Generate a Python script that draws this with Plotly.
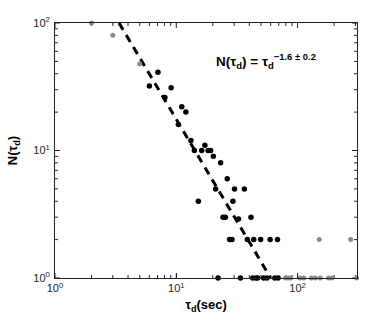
import plotly.graph_objects as go

# Black points (tau_d in sec, N)
black_tau = [7.06, 6.0, 9.07, 8.06, 11.1, 12.0, 10.4, 13.2, 17.2, 14.1, 16.2, 18.3, 19.2,
             20.2, 23.2, 26.3, 21.1, 30.2, 36.4, 15.2, 29.3, 24.3, 25.4, 32.6, 41.3,
             27.5, 28.8, 38.5, 43.5, 49.6, 59.4, 68.3,
             22.1, 33.8, 42.7, 45.4, 46.9, 52.5, 55.9, 64.9, 69.1]
black_n = [41, 32, 31, 26, 22, 20, 16, 12, 11, 10, 10, 10, 10,
           9, 8, 6, 5, 5, 5, 4, 4, 3, 3, 2.9, 3,
           2, 2, 2, 2, 2, 2, 2,
           1, 1, 1, 1, 1, 1, 1, 1, 1]

# Gray points
gray_tau = [2, 3, 5, 151, 274, 79.8, 83.6, 87.7, 104.4, 112.6, 130, 140, 154, 180, 192, 307]
gray_n = [100, 80, 48, 2, 2, 1, 1, 1, 1, 1, 1, 1, 1, 1, 1, 1]

# Power-law fit N = A * tau^(-alpha)
fit_A = 700.0
fit_alpha = 1.6
fit_tau = [(fit_A / 100) ** (1 / fit_alpha), fit_A ** (1 / fit_alpha)]
fit_n = [fit_A * t ** (-fit_alpha) for t in fit_tau]

x_tickvals = [1, 10, 100]
x_ticktext = ["10<sup>0</sup>", "10<sup>1</sup>", "10<sup>2</sup>"]
y_tickvals = [1, 10, 100]
y_ticktext = ["10<sup>0</sup>", "10<sup>1</sup>", "10<sup>2</sup>"]
x_max = 10 ** 2.49
y_max = 100
x_minor = [m * 10 ** d for d in range(0, 3) for m in range(2, 10) if m * 10 ** d < x_max]
y_minor = [m * 10 ** d for d in range(0, 2) for m in range(2, 10) if m * 10 ** d < y_max]

W, H = 374, 323
ML, MR, MT, MB = 52, 17, 23, 45
PW, PH = W - ML - MR, H - MT - MB
minor_len = 3
major_len = 5

fig = go.Figure()
fig.add_trace(go.Scatter(x=fit_tau, y=fit_n, mode="lines",
                         line=dict(color="black", width=3, dash="8px,6px"),
                         showlegend=False, cliponaxis=True, hoverinfo="skip"))
fig.add_trace(go.Scatter(x=gray_tau, y=gray_n, mode="markers",
                         marker=dict(color="#8a8a8a", size=5),
                         showlegend=False, cliponaxis=False))
fig.add_trace(go.Scatter(x=black_tau, y=black_n, mode="markers",
                         marker=dict(color="black", size=5.5),
                         showlegend=False, cliponaxis=False))

tick_line = dict(color="#222", width=1)
# minor + major ticks on bottom/top (x) and left/right (y) drawn as axis decorations
for v, ln in [(v, minor_len) for v in x_minor] + [(v, major_len) for v in x_tickvals]:
    fig.add_shape(type="line", xref="x", yref="paper", x0=v, x1=v, y0=0, y1=ln / PH,
                  line=tick_line, layer="below")
    fig.add_shape(type="line", xref="x", yref="paper", x0=v, x1=v, y0=1, y1=1 - ln / PH,
                  line=tick_line, layer="below")
for v, ln in [(v, minor_len) for v in y_minor] + [(v, major_len) for v in y_tickvals]:
    fig.add_shape(type="line", xref="paper", yref="y", y0=v, y1=v, x0=0, x1=ln / PW,
                  line=tick_line, layer="below")
    fig.add_shape(type="line", xref="paper", yref="y", y0=v, y1=v, x0=1, x1=1 - ln / PW,
                  line=tick_line, layer="below")

axis_common = dict(type="log", showgrid=False, zeroline=False, showline=True,
                   linecolor="#222", linewidth=1, mirror=True, ticks="inside",
                   ticklen=5, tickwidth=1, tickcolor="#222",
                   tickfont=dict(family="Liberation Sans, Arial", size=11, color="#222"))

fig.update_xaxes(range=[0, 2.49], tickmode="array", tickvals=x_tickvals, ticktext=x_ticktext,
                 title=dict(text="<b>τ<sub>d</sub>(sec)</b>", standoff=6,
                            font=dict(family="Liberation Sans, Arial", size=13, color="black")),
                 **axis_common)
fig.update_yaxes(range=[0, 2], tickmode="array", tickvals=y_tickvals, ticktext=y_ticktext,
                 ticklabelstandoff=2,
                 title=dict(text="<b>N(τ<sub>d</sub>)</b>", standoff=12,
                            font=dict(family="Liberation Sans, Arial", size=13, color="black")),
                 **axis_common)

fig.add_annotation(xref="paper", yref="paper", x=0.528, y=0.85, xanchor="left", yanchor="middle",
                   text="<b>N(τ<sub>d</sub>) = τ<sub>d</sub><sup>−1.6 ± 0.2</sup></b>",
                   showarrow=False,
                   font=dict(family="Liberation Sans, Arial", size=13.5, color="black"))

fig.update_layout(width=W, height=H, margin=dict(l=ML, r=MR, t=MT, b=MB),
                  paper_bgcolor="white", plot_bgcolor="white")

fig.write_html("out.html", config={"displayModeBar": False},
               post_script="document.body.style.margin='0';document.body.style.padding='0';")
